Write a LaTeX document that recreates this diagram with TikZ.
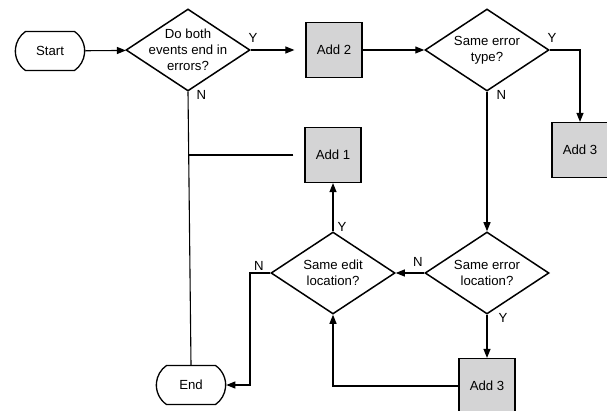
\documentclass[tikz,border=0pt]{standalone}
\usepackage{fontspec}
\setmainfont{Liberation Sans}
\usetikzlibrary{shapes.geometric}
\usetikzlibrary{shapes.misc}
\usetikzlibrary{arrows.meta}
\definecolor{boxgray}{RGB}{212,212,213}
\tikzset{
  decision/.style={diamond, draw, line width=1.5pt, aspect=1.5, minimum width=124pt, minimum height=82pt, inner xsep=-9pt, inner ysep=-5pt, align=center},
  addbox/.style={rectangle, draw, fill=boxgray, line width=1.2pt, minimum width=56pt, minimum height=55pt},
  terminal/.style={rounded rectangle, rounded rectangle arc length=110, draw, line width=1.3pt, minimum width=76pt, minimum height=39pt},
  yn/.style={inner sep=1pt}
}

\begin{document}
\begin{tikzpicture}[x=1pt, y=-1pt, line width=1.1pt, >={Triangle[length=9pt,width=7pt]}, font=\fontsize{13.2}{16}\selectfont]
	\useasboundingbox (0,0) rectangle (607,411);
	% shapes
	\node[terminal] (start) at (50,51) {Start};
	\node[decision] (both) at (188,50) {Do both\\events end in\\errors?};
	\node[addbox] (addtwo) at (334,50) {Add 2};
	\node[decision] (etype) at (487,50) {Same error\\type?};
	\node[addbox] (addthreea) at (580,150) {Add 3};
	\node[addbox] (addone) at (333,155) {Add 1};
	\node[decision] (eloc) at (487,273) {Same error\\location?};
	\node[decision] (edit) at (333,273) {Same edit\\location?};
	\node[addbox] (addthreeb) at (487,386) {Add 3};
	\node[terminal] (end) at (191,385) {End};
	% connectors
	\draw[->] (start) -- (both);
	\draw[->, shorten >=11pt] (both.east) -- (addtwo.west);
	\draw[->] (addtwo) -- (etype);
	\draw[->] (etype.east) -| (addthreea.north);
	\draw[->] (etype.south) -- (eloc.north);
	\draw[->] (eloc.west) -- (edit.east);
	\draw[->] (eloc.south) -- (addthreeb.north);
	\draw[->] (addthreeb.west) -| (edit.south);
	\draw[->] (edit.north) -- (addone.south);
	\draw[->] (edit.west) -- (250,273) |- (end.east);
	\draw (both.south) -- (end.north);
	\draw[shorten <=11pt] (addone.west) -- (both.south |- addone.west);
	% Y / N labels
	\node[yn, anchor=south west] (yboth) at (247,44) {Y};
	\node[yn, anchor=north west] (nboth) at (195,89) {N};
	\node[yn, anchor=south west] (yetype) at (546,44) {Y};
	\node[yn, anchor=north west] (netype) at (495,89) {N};
	\node[yn, anchor=south] (neloc) at (418,268) {N};
	\node[yn, anchor=north west] (yeloc) at (497,312) {Y};
	\node[yn, anchor=south west] (yedit) at (336,233) {Y};
	\node[yn, anchor=south] (nedit) at (259,272) {N};
\end{tikzpicture}
\end{document}
